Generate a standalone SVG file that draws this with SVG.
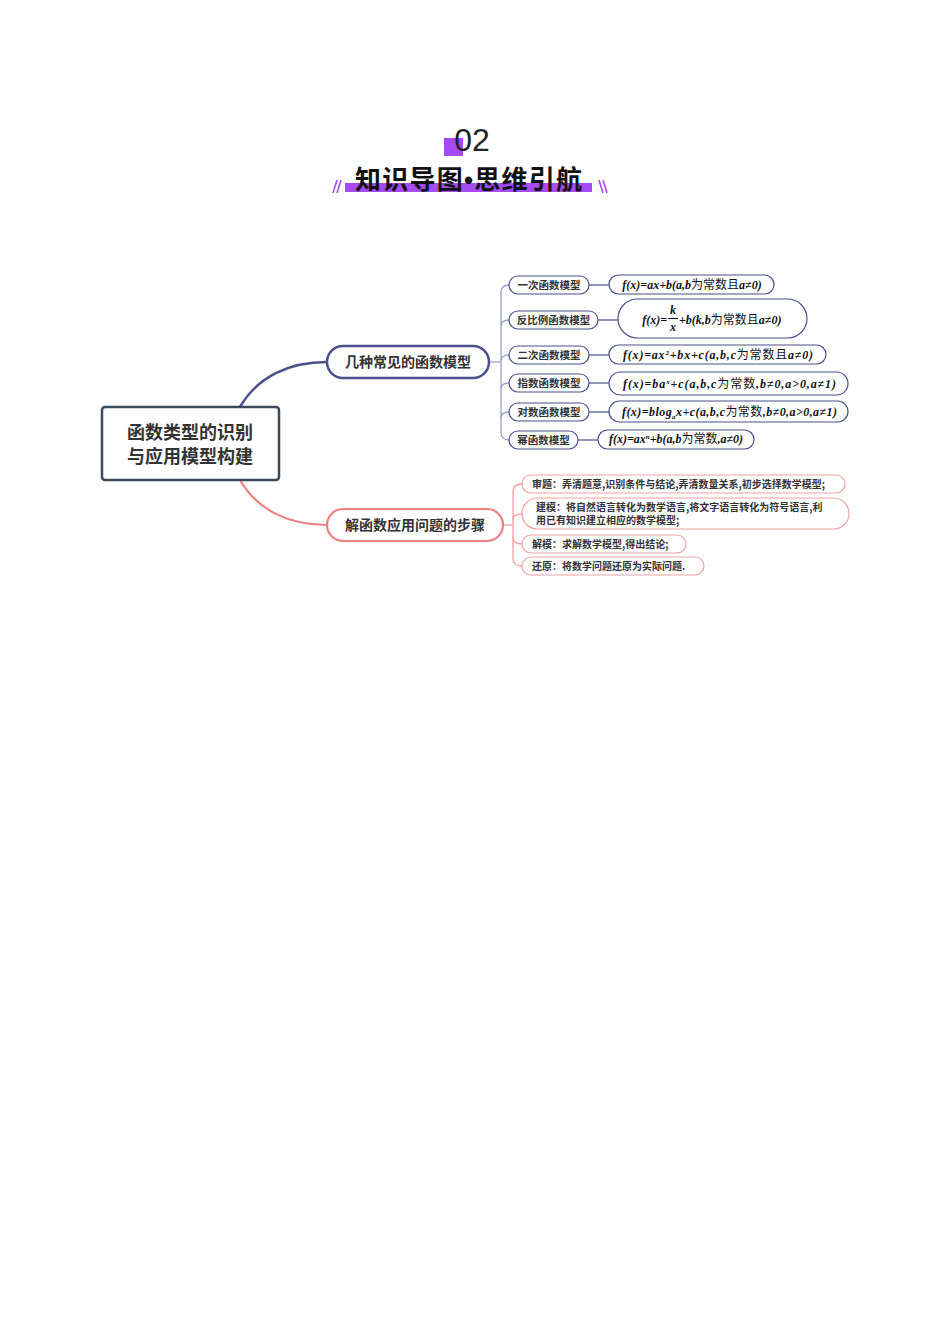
<svg xmlns="http://www.w3.org/2000/svg" width="950" height="1344" viewBox="0 0 950 1344">
<style>
.cjk{font-family:"Noto Sans CJK SC","Noto Sans",sans-serif}
.b{font-weight:bold}
.sub{fill:#fff;stroke:#4b4f8c;stroke-width:1.2}
.fpill{fill:#fff;stroke:#4b4f8c;stroke-width:1.2}
.subt{font-family:"Noto Sans CJK SC",sans-serif;font-weight:bold;font-size:10.5px;fill:#333;text-anchor:middle}
.f{font-family:"Liberation Serif","Noto Sans CJK SC",serif;font-style:italic;font-weight:bold;font-size:12px;fill:#111}
.fc{font-family:"Noto Sans CJK SC",sans-serif;font-style:normal;font-weight:normal}
.sp{fill:#fff;stroke:#f0a3a3;stroke-width:1.2}
.spt{font-family:"Noto Sans CJK SC",sans-serif;font-weight:bold;font-size:10px;fill:#333}
.t1{fill:none;stroke:#9fa1c9;stroke-width:1.3}
.t2{fill:none;stroke:#f2a0a0;stroke-width:1.3}
</style>

<g id="title">
<rect x="444" y="138" width="19" height="18" fill="#a64bf4"/>
<text x="472" y="151" font-family="Liberation Sans,sans-serif" font-size="32" fill="#222" text-anchor="middle">02</text>
<rect x="345" y="183" width="247" height="9" fill="#a64bf4"/>
<text x="355" y="189" class="cjk b" font-size="26" fill="#111" textLength="227" lengthAdjust="spacing">知识导图<tspan font-family="Liberation Sans,sans-serif">•</tspan>思维引航</text>
<g stroke="#a64bf4" stroke-width="1.6">
<line x1="333" y1="193" x2="337" y2="180"/><line x1="337" y1="193" x2="341" y2="180"/>
<line x1="599" y1="180" x2="603" y2="193"/><line x1="603" y1="180" x2="607" y2="193"/>
</g>
</g>

<g id="connectors">
<path d="M240,407 C258,376 290,362 327,362" fill="none" stroke="#4b4f8c" stroke-width="2.5"/>
<path d="M240,480 C258,511 290,525 327,525" fill="none" stroke="#f08080" stroke-width="2.2"/>
<path class="t1" d="M489,362 H501"/>
<path class="t1" d="M509,285 Q501,285 501,293 V432 Q501,440 509,440"/>
<path class="t1" d="M501,326 Q501,320 509,320"/>
<path class="t1" d="M501,361 Q501,355 509,355"/>
<path class="t1" d="M501,389 Q501,383 509,383"/>
<path class="t1" d="M501,418 Q501,412 509,412"/>
<g stroke="#4b4f8c" stroke-width="1.2">
<line x1="589" y1="285" x2="609" y2="285"/>
<line x1="598" y1="320" x2="618" y2="320"/>
<line x1="589" y1="355" x2="609" y2="355"/>
<line x1="589" y1="383" x2="609" y2="383"/>
<line x1="589" y1="412" x2="609" y2="412"/>
<line x1="578" y1="440" x2="598" y2="440"/>
</g>
<path class="t2" d="M503,525 H513"/>
<path class="t2" d="M522,484 Q513,484 513,492 V558 Q513,566 522,566"/>
<path class="t2" d="M513,520 Q513,514 522,514"/>
<path class="t2" d="M513,537 Q513,544 522,544"/>
</g>

<g id="central">
<rect x="102" y="407" width="177" height="73" rx="3" fill="#fff" stroke="#3d4a5c" stroke-width="2.5"/>
<text x="190" y="439" class="cjk b" font-size="18" fill="#333" text-anchor="middle">函数类型的识别</text>
<text x="190" y="463" class="cjk b" font-size="18" fill="#333" text-anchor="middle">与应用模型构建</text>
</g>

<g id="branch1">
<rect x="327" y="346" width="162" height="32" rx="16" fill="#fff" stroke="#4b4f8c" stroke-width="2.5"/>
<text x="408" y="367" class="cjk b" font-size="14" fill="#333" text-anchor="middle">几种常见的函数模型</text>
</g>

<g id="branch2">
<rect x="327" y="509" width="176" height="32" rx="16" fill="#fff" stroke="#f08080" stroke-width="2.2"/>
<text x="415" y="530" class="cjk b" font-size="14" fill="#333" text-anchor="middle">解函数应用问题的步骤</text>
</g>

<g id="m1">
<rect class="sub" x="509" y="276" width="80" height="18" rx="9"/>
<text class="subt" x="549" y="289">一次函数模型</text>
</g>
<g id="f1">
<rect class="fpill" x="609" y="275" width="165" height="19" rx="9.5"/>
<text class="f" x="692" y="289" text-anchor="middle">f(x)=ax+b(a,b<tspan class="fc">为常数且</tspan>a≠0)</text>
</g>

<g id="m2">
<rect class="sub" x="509" y="311" width="89" height="18" rx="9"/>
<text class="subt" x="553.5" y="324">反比例函数模型</text>
</g>
<g id="f2">
<rect class="fpill" x="618" y="299" width="189" height="39" rx="19.5"/>
<text class="f" x="667" y="324" text-anchor="end">f(x)=</text>
<text class="f" x="673" y="314" text-anchor="middle">k</text>
<line x1="668" y1="318.5" x2="678" y2="318.5" stroke="#111" stroke-width="1"/>
<text class="f" x="673" y="331" text-anchor="middle">x</text>
<text class="f" x="679" y="324">+b(k,b<tspan class="fc">为常数且</tspan>a≠0)</text>
</g>

<g id="m3">
<rect class="sub" x="509" y="346" width="80" height="18" rx="9"/>
<text class="subt" x="549" y="359">二次函数模型</text>
</g>
<g id="f3">
<rect class="fpill" x="609" y="345" width="217" height="19" rx="9.5"/>
<text class="f" x="623" y="359" font-size="13" textLength="190" lengthAdjust="spacing">f(x)=ax<tspan font-size="7" dy="-4">2</tspan><tspan dy="4">+bx+c(a,b,c</tspan><tspan class="fc">为常数且</tspan>a≠0)</text>
</g>

<g id="m4">
<rect class="sub" x="509" y="374" width="80" height="18" rx="9"/>
<text class="subt" x="549" y="387">指数函数模型</text>
</g>
<g id="f4">
<rect class="fpill" x="609" y="372" width="239" height="23" rx="11.5"/>
<text class="f" x="623" y="388" font-size="13" textLength="213" lengthAdjust="spacing">f(x)=ba<tspan font-size="7" dy="-4">x</tspan><tspan dy="4">+c(a,b,c</tspan><tspan class="fc">为常数</tspan>,b≠0,a&gt;0,a≠1)</text>
</g>

<g id="m5">
<rect class="sub" x="509" y="403" width="80" height="18" rx="9"/>
<text class="subt" x="549" y="416">对数函数模型</text>
</g>
<g id="f5">
<rect class="fpill" x="609" y="401" width="239" height="21" rx="10.5"/>
<text class="f" x="622" y="416" font-size="13" textLength="215" lengthAdjust="spacing">f(x)=blog<tspan font-size="7" dy="3">a</tspan><tspan dy="-3">x+c(a,b,c</tspan><tspan class="fc">为常数</tspan>,b≠0,a&gt;0,a≠1)</text>
</g>

<g id="m6">
<rect class="sub" x="509" y="431" width="69" height="18" rx="9"/>
<text class="subt" x="543.5" y="444">幂函数模型</text>
</g>
<g id="f6">
<rect class="fpill" x="598" y="430" width="156" height="19" rx="9.5"/>
<text class="f" x="676" y="443" text-anchor="middle" font-size="11">f(x)=ax<tspan font-size="7" dy="-4">n</tspan><tspan dy="4">+b(a,b</tspan><tspan class="fc">为常数</tspan>,a≠0)</text>
</g>

<g id="s1">
<rect class="sp" x="522" y="475" width="323" height="18" rx="9"/>
<text class="spt" x="532" y="488">审题：弄清题意,识别条件与结论,弄清数量关系,初步选择数学模型;</text>
</g>
<g id="s2">
<rect class="sp" x="522" y="498" width="327" height="31" rx="15.5"/>
<text class="spt" x="536" y="511">建模：将自然语言转化为数学语言,将文字语言转化为符号语言,利</text>
<text class="spt" x="536" y="524">用已有知识建立相应的数学模型;</text>
</g>
<g id="s3">
<rect class="sp" x="522" y="535" width="164" height="18" rx="9"/>
<text class="spt" x="532" y="548">解模：求解数学模型,得出结论;</text>
</g>
<g id="s4">
<rect class="sp" x="522" y="557" width="182" height="18" rx="9"/>
<text class="spt" x="532" y="570">还原：将数学问题还原为实际问题.</text>
</g>
</svg>
